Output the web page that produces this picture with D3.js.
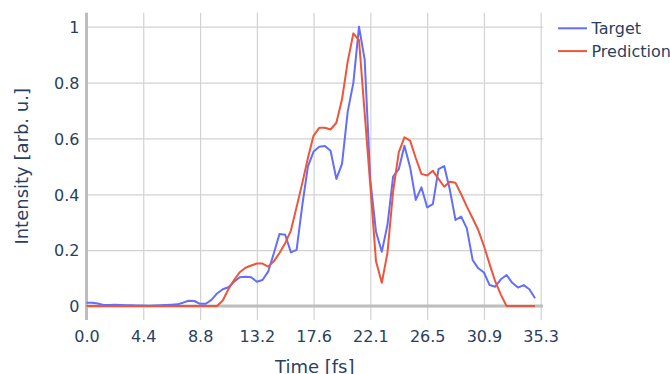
<!DOCTYPE html>
<html>
<head>
<meta charset="utf-8">
<script src="https://cdn.jsdelivr.net/npm/d3@7"></script>
<style>
  html, body { margin: 0; padding: 0; background: #fff; }
  svg { display: block; font-family: "DejaVu Sans", sans-serif; }
</style>
</head>
<body>
<svg id="chart" width="670" height="374"></svg>
<script>
// Sample times (fs)
const time = [
  0.00, 0.44, 0.88, 1.32, 1.77, 2.21, 2.65, 3.09, 3.53, 3.97,
  4.41, 4.85, 5.30, 5.74, 6.18, 6.62, 7.06, 7.50, 7.94, 8.38,
  8.83, 9.27, 9.71, 10.15, 10.59, 11.03, 11.47, 11.91, 12.36, 12.80,
  13.24, 13.68, 14.12, 14.56, 15.00, 15.44, 15.89, 16.33, 16.77, 17.21,
  17.65, 18.09, 18.53, 18.97, 19.42, 19.86, 20.30, 20.74, 21.18, 21.62,
  22.06, 22.50, 22.95, 23.39, 23.83, 24.27, 24.71, 25.15, 25.59, 26.03,
  26.48, 26.92, 27.36, 27.80, 28.24, 28.68, 29.12, 29.56, 30.01, 30.45,
  30.89, 31.33, 31.77, 32.21, 32.65, 33.09, 33.54, 33.98, 34.42, 34.86
];

// Measured (target) intensity
const target = [
  0.012, 0.012, 0.009, 0.004, 0.004, 0.005, 0.004, 0.003, 0.003, 0.002,
  0.002, 0.001, 0.002, 0.003, 0.004, 0.005, 0.006, 0.012, 0.019, 0.018,
  0.008, 0.008, 0.022, 0.045, 0.060, 0.067, 0.087, 0.103, 0.105, 0.103,
  0.087, 0.093, 0.123, 0.189, 0.258, 0.255, 0.192, 0.201, 0.360, 0.500,
  0.553, 0.570, 0.573, 0.556, 0.455, 0.509, 0.695, 0.799, 1.000, 0.882,
  0.450, 0.266, 0.194, 0.290, 0.463, 0.490, 0.574, 0.497, 0.380, 0.425,
  0.353, 0.365, 0.490, 0.501, 0.416, 0.308, 0.320, 0.278, 0.165, 0.135,
  0.120, 0.075, 0.069, 0.096, 0.111, 0.083, 0.066, 0.075, 0.060, 0.028
];

// Predicted intensity
const prediction = [
  0, 0, 0, 0, 0, 0, 0, 0, 0, 0,
  0, 0, 0, 0, 0, 0, 0, 0, 0, 0,
  0, 0, 0, 0, 0.020, 0.060, 0.093, 0.121, 0.137, 0.145,
  0.152, 0.152, 0.141, 0.160, 0.190, 0.225, 0.270, 0.355, 0.440, 0.530,
  0.610, 0.638, 0.638, 0.632, 0.656, 0.740, 0.875, 0.976, 0.952, 0.690,
  0.430, 0.160, 0.083, 0.190, 0.410, 0.550, 0.604, 0.592, 0.530, 0.473,
  0.467, 0.484, 0.455, 0.427, 0.445, 0.441, 0.400, 0.356, 0.314, 0.272,
  0.215, 0.150, 0.088, 0.040, 0, 0, 0, 0, 0, 0
];

const xTickValues = [0, 4.41, 8.83, 13.24, 17.65, 22.06, 26.48, 30.89, 35.30];
const xTickLabels = ["0.0", "4.4", "8.8", "13.2", "17.6", "22.1", "26.5", "30.9", "35.3"];
const yTickValues = [0, 0.2, 0.4, 0.6, 0.8, 1];
const yTickLabels = ["0", "0.2", "0.4", "0.6", "0.8", "1"];

const seriesNames = ["Target", "Prediction"];
const seriesColors = ["#636efa", "#ef553b"];

const textColor = "#2a3f5f";
const gridColor = "#d2d2d2";
const zeroColor = "#bdbdbd";

const plot = { left: 86.5, right: 543, top: 12.7, bottom: 320 };

const x = d3.scaleLinear().domain([0, 35.48]).range([plot.left, plot.right]);
const y = d3.scaleLinear().domain([-0.05, 1.05]).range([plot.bottom, plot.top]);

const svg = d3.select("#chart");

// Grid lines via axes with full-length ticks
const gx = svg.append("g")
  .attr("transform", `translate(0,${plot.bottom})`)
  .call(d3.axisBottom(x).tickValues(xTickValues)
    .tickSize(-(plot.bottom - plot.top)).tickFormat(""));
gx.select(".domain").remove();
gx.selectAll("line").attr("stroke", gridColor).attr("stroke-width", 1.2);

const gy = svg.append("g")
  .attr("transform", `translate(${plot.left},0)`)
  .call(d3.axisLeft(y).tickValues(yTickValues)
    .tickSize(-(plot.right - plot.left)).tickFormat(""));
gy.select(".domain").remove();
gy.selectAll("line").attr("stroke", gridColor).attr("stroke-width", 1.2);

// Zero lines
svg.append("line")
  .attr("x1", plot.left).attr("x2", plot.right)
  .attr("y1", y(0)).attr("y2", y(0))
  .attr("stroke", zeroColor).attr("stroke-width", 3);
svg.append("line")
  .attr("x1", x(0)).attr("x2", x(0))
  .attr("y1", plot.top).attr("y2", plot.bottom)
  .attr("stroke", zeroColor).attr("stroke-width", 3);

// Tick labels
const xLab = svg.append("g")
  .attr("transform", `translate(0,${plot.bottom})`)
  .call(d3.axisBottom(x).tickValues(xTickValues)
    .tickSize(0).tickPadding(0)
    .tickFormat((d, i) => xTickLabels[i]));
xLab.select(".domain").remove();
xLab.selectAll("text")
  .attr("y", 21.5).attr("dy", null)
  .attr("fill", textColor)
  .style("font-size", "16px")
  .style("font-family", "DejaVu Sans, sans-serif");

const yLab = svg.append("g")
  .attr("transform", `translate(${plot.left},0)`)
  .call(d3.axisLeft(y).tickValues(yTickValues)
    .tickSize(0).tickPadding(0)
    .tickFormat((d, i) => yTickLabels[i]));
yLab.select(".domain").remove();
yLab.selectAll("text")
  .attr("x", -7).attr("dy", "0.36em")
  .attr("fill", textColor)
  .style("font-size", "16px")
  .style("font-family", "DejaVu Sans, sans-serif");

// Series lines
const line = d3.line()
  .x((d, i) => x(time[i]))
  .y(d => y(d));

[target, prediction].forEach((values, k) => {
  svg.append("path")
    .datum(values)
    .attr("fill", "none")
    .attr("stroke", seriesColors[k])
    .attr("stroke-width", 2)
    .attr("stroke-linejoin", "round")
    .attr("d", line);
});

// Axis titles
svg.append("text")
  .attr("x", (plot.left + plot.right) / 2)
  .attr("y", 372.5)
  .attr("text-anchor", "middle")
  .attr("fill", textColor)
  .style("font-size", "18px")
  .text("Time [fs]");

svg.append("text")
  .attr("transform", `translate(28,${(plot.top + plot.bottom) / 2}) rotate(-90)`)
  .attr("text-anchor", "middle")
  .attr("fill", textColor)
  .style("font-size", "18px")
  .text("Intensity [arb. u.]");

// Legend
const legend = svg.append("g");
seriesNames.forEach((name, k) => {
  const ly = 28.3 + k * 22.8;
  legend.append("line")
    .attr("x1", 558).attr("x2", 587)
    .attr("y1", ly).attr("y2", ly)
    .attr("stroke", seriesColors[k]).attr("stroke-width", 2);
  legend.append("text")
    .attr("x", 591.5).attr("y", ly).attr("dy", "0.36em")
    .attr("fill", textColor)
    .style("font-size", "16px")
    .text(name);
});
</script>
</body>
</html>
